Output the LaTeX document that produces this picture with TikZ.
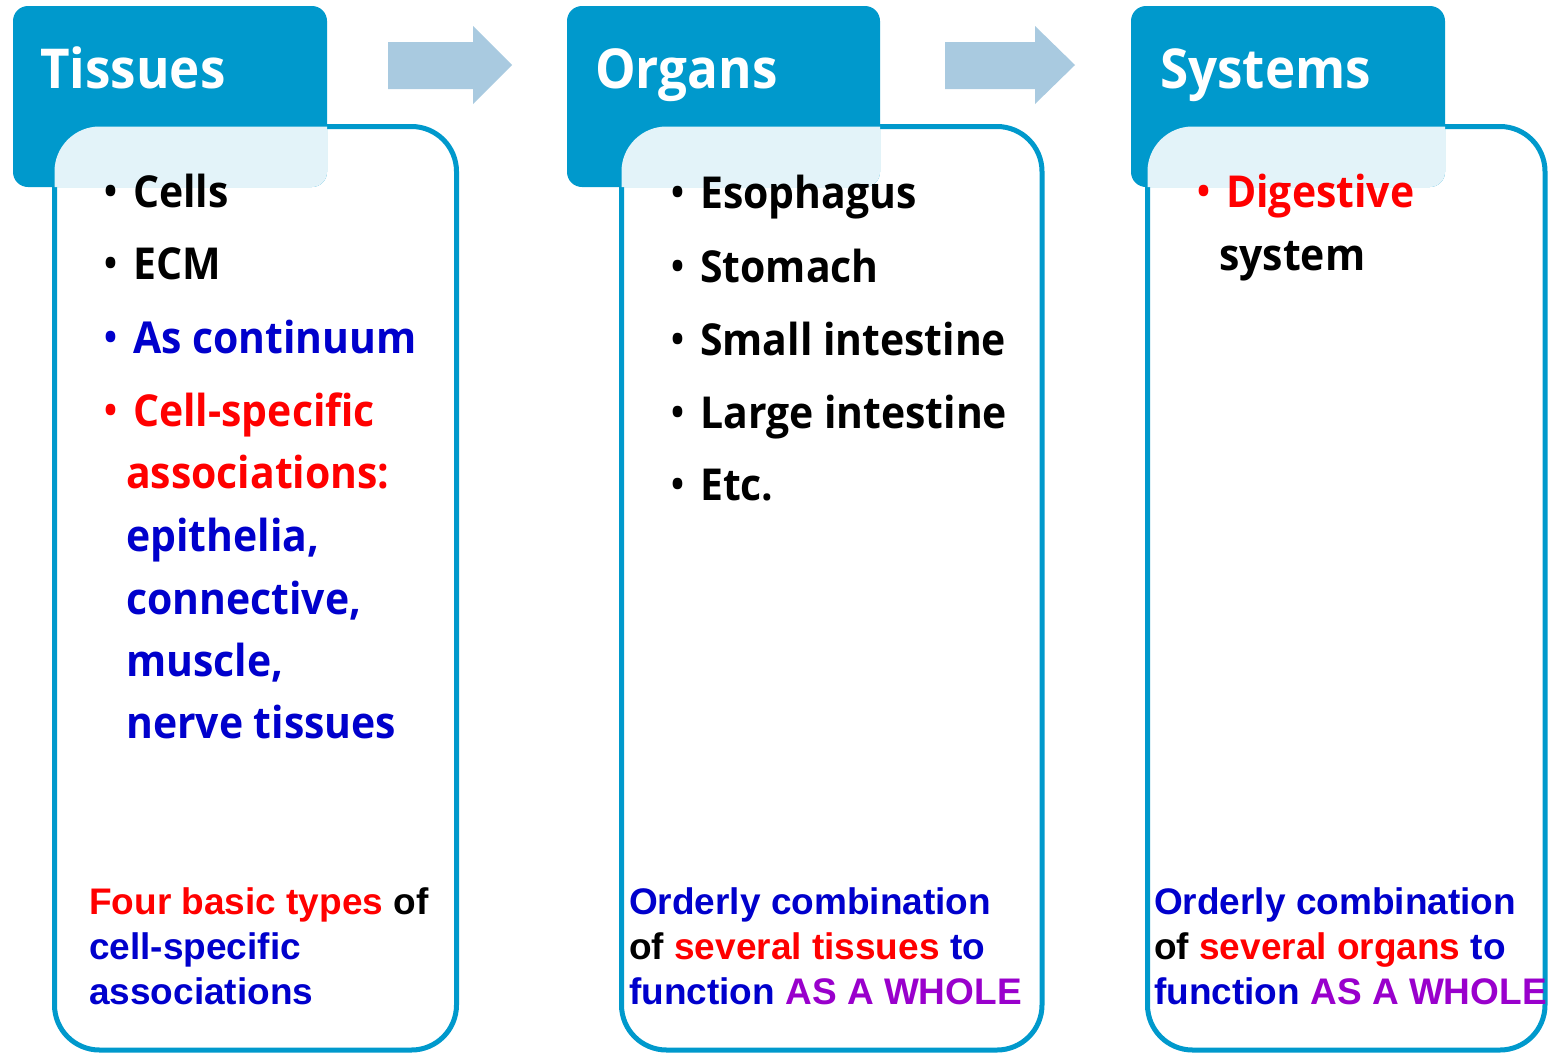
\documentclass[tikz,border=0pt]{standalone}
\usepackage{fontspec}
\newfontfamily\hfont{Open Sans}[FakeStretch=0.93]
\newfontfamily\afont{Liberation Sans}
\definecolor{hdr}{RGB}{0,153,204}
\definecolor{arrc}{RGB}{169,202,224}
\definecolor{tblue}{RGB}{0,0,204}
\definecolor{tred}{RGB}{255,0,0}
\definecolor{tpurp}{RGB}{153,0,204}
\newcommand{\bul}{\makebox[29pt][l]{\raisebox{3pt}{\fontsize{37}{37}\selectfont\textbullet}}}
\tikzset{
 hdrbox/.style={fill=hdr, rounded corners=15pt},
 bodybox/.style={draw=hdr, line width=5pt, fill=white, rounded corners=45pt},
 veil/.style={fill=white, fill opacity=0.89, rounded corners=45pt},
 flowarrow/.style={fill=arrc},
 title/.style={anchor=base west, inner sep=0pt, text=white, font=\hfont\bfseries\fontsize{55}{55}\selectfont},
 item/.style={anchor=base west, inner sep=0pt, font=\hfont\bfseries\fontsize{44}{44}\selectfont},
 note/.style={anchor=base west, inner sep=0pt, font=\afont\bfseries\fontsize{37}{37}\selectfont},
}
\begin{document}
\begin{tikzpicture}[x=1pt,y=-1pt]
\fill[white] (0,0) rectangle (1556,1053);
\useasboundingbox (0,0) rectangle (1556,1053);
% bodies
\draw[bodybox] (54.5,126.5) rectangle (456.5,1050);
\draw[bodybox] (621.5,126.5) rectangle (1042,1050);
\draw[bodybox] (1147.5,126.5) rectangle (1545,1050);
% headers
\fill[hdrbox] (13,6) rectangle (327,187);
\fill[hdrbox] (567,6) rectangle (880,187);
\fill[hdrbox] (1131,6) rectangle (1445,187);
% veils over header overlap
\begin{scope}
\clip[rounded corners=15pt] (13,6) rectangle (327,187);
\fill[veil] (54.5,126.5) rectangle (456.5,1050);
\end{scope}
\begin{scope}
\clip[rounded corners=15pt] (567,6) rectangle (880,187);
\fill[veil] (621.5,126.5) rectangle (1042,1050);
\end{scope}
\begin{scope}
\clip[rounded corners=15pt] (1131,6) rectangle (1445,187);
\fill[veil] (1147.5,126.5) rectangle (1545,1050);
\end{scope}
% arrows
\fill[flowarrow] (388,42) -- (473,42) -- (473,26) -- (512,65) -- (473,104) -- (473,89) -- (388,89) -- cycle;
\fill[flowarrow] (945,42) -- (1035,42) -- (1035,26) -- (1075,65) -- (1035,104) -- (1035,89) -- (945,89) -- cycle;
% titles
\node[title] (t1) at (40,88) {Tissues};
\node[title] (t2) at (595,88) {Organs};
\node[title] (t3) at (1160,88) {Systems};
% tissues items
\node[item] (a1) at (104,207) {\bul Cells};
\node[item] (a2) at (104,279) {\bul ECM};
\node[item, text=tblue] (a3) at (104,353) {\bul As continuum};
\node[item, text=tred] (a4) at (104,426) {\bul Cell-specific};
\node[item, text=tred] (a5) at (126,488) {associations:};
\node[item, text=tblue] (a6) at (126,551) {epithelia,};
\node[item, text=tblue] (a7) at (126,614) {connective,};
\node[item, text=tblue] (a8) at (126,676) {muscle,};
\node[item, text=tblue] (a9) at (126,738) {nerve tissues};
% organs items
\node[item] (b1) at (671,208) {\bul Esophagus};
\node[item] (b2) at (671,282) {\bul Stomach};
\node[item] (b3) at (671,355) {\bul Small intestine};
\node[item] (b4) at (671,428) {\bul Large intestine};
\node[item] (b5) at (671,500) {\bul Etc.};
% systems items
\node[item, text=tred] (c1) at (1197,207) {\bul Digestive};
\node[item] (c2) at (1219,270) {system};
% notes
\node[note] (n1) at (89,914) {\textcolor{tred}{Four basic types} of};
\node[note, text=tblue] (n2) at (89,959) {cell-specific};
\node[note, text=tblue] (n3) at (89,1004) {associations};
\node[note, text=tblue] (m1) at (629,914) {Orderly combination};
\node[note] (m2) at (629,959) {of \textcolor{tred}{several tissues} \textcolor{tblue}{to}};
\node[note, text=tblue] (m3) at (629,1004) {function \textcolor{tpurp}{AS A WHOLE}};
\node[note, text=tblue] (s1) at (1154,914) {Orderly combination};
\node[note] (s2) at (1154,959) {of \textcolor{tred}{several organs} \textcolor{tblue}{to}};
\node[note, text=tblue] (s3) at (1154,1004) {function \textcolor{tpurp}{AS A WHOLE}};
\end{tikzpicture}
\end{document}
